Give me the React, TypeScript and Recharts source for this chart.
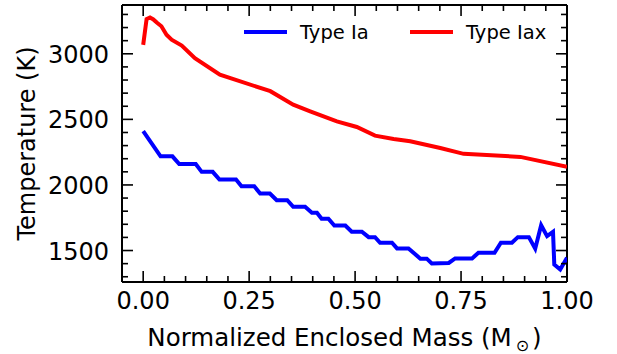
import { LineChart, Line, XAxis, YAxis, Legend, ReferenceLine } from "recharts";

// Enclosed mass (normalised) and temperature profiles
const iaMass = [
  0, 0.041, 0.069, 0.085, 0.124, 0.138, 0.164, 0.18, 0.219, 0.232, 0.262, 0.276, 0.299, 0.315,
  0.34, 0.354, 0.382, 0.398, 0.41, 0.421, 0.437, 0.451, 0.477, 0.492, 0.516, 0.532, 0.547, 0.559,
  0.587, 0.599, 0.626, 0.654, 0.669, 0.681, 0.721, 0.736, 0.776, 0.791, 0.829, 0.844, 0.87, 0.884,
  0.91, 0.925, 0.939, 0.953, 0.967, 0.97, 0.984, 1.0,
];
const iaTemp = [
  2410, 2218, 2218, 2160, 2160, 2100, 2100, 2041, 2041, 1990, 1990, 1935, 1935, 1884,
  1884, 1833, 1833, 1788, 1788, 1742, 1742, 1691, 1691, 1643, 1643, 1602, 1602, 1559,
  1559, 1516, 1516, 1438, 1438, 1402, 1405, 1440, 1440, 1483, 1483, 1559, 1559, 1602,
  1602, 1514, 1693, 1610, 1643, 1394, 1356, 1445,
];

const iaxMass = [
  0, 0.008, 0.016, 0.024, 0.032, 0.043, 0.055, 0.067, 0.091, 0.122, 0.181, 0.3, 0.354, 0.394,
  0.457, 0.504, 0.547, 0.591, 0.63, 0.701, 0.756, 0.89, 1.0,
];
const iaxTemp = [
  3068, 3265, 3276, 3262, 3238, 3210, 3145, 3107, 3063, 2967, 2840, 2715, 2612, 2561,
  2485, 2442, 2376, 2351, 2333, 2282, 2237, 2214, 2138,
];

const massTicks = [
  0, 0.05, 0.1, 0.15, 0.2, 0.25, 0.3, 0.35, 0.4, 0.45, 0.5, 0.55, 0.6, 0.65, 0.7, 0.75, 0.8,
  0.85, 0.9, 0.95, 1,
];
const massLabels = [0, 0.25, 0.5, 0.75, 1];
const tempTicks = [
  1300, 1400, 1500, 1600, 1700, 1800, 1900, 2000, 2100, 2200, 2300, 2400, 2500, 2600, 2700,
  2800, 2900, 3000, 3100, 3200, 3300,
];
const tempLabels = [1500, 2000, 2500, 3000];

const iaData = iaMass.map((m, i) => ({ mass: m, temp: iaTemp[i] }));
const iaxData = iaxMass.map((m, i) => ({ mass: m, temp: iaxTemp[i] }));

const FONT = "DejaVu Sans";
const W = 617;
const H = 354;
const MARGIN = { top: 5, right: 50, left: 0, bottom: 0 };
const X_AXIS_H = 72;
const Y_AXIS_W = 122;
// plot box size, used to mirror ticks onto the top and right edges
const PLOT_W = W - MARGIN.right - Y_AXIS_W;
const PLOT_H = H - MARGIN.top - X_AXIS_H;
const MAJOR = 11;
const MINOR = 6;
const TICK_W = 1.6;
const X_DOMAIN: [number, number] = [-0.05, 1.0];
const Y_DOMAIN: [number, number] = [1260, 3372];

// inward ticks on bottom + top edges
function MassTick({ x, y, payload }: any) {
  const major = massLabels.includes(payload.value);
  const len = major ? MAJOR : MINOR;
  const top = y - PLOT_H;
  return (
    <g>
      <line x1={x} x2={x} y1={y} y2={y - len} stroke="#000" strokeWidth={TICK_W} />
      <line x1={x} x2={x} y1={top} y2={top + len} stroke="#000" strokeWidth={TICK_W} />
      {major && (
        <text x={x} y={y + 27} textAnchor="middle" fontSize={24} fontFamily={FONT} fill="#000">
          {payload.value.toFixed(2)}
        </text>
      )}
    </g>
  );
}

// inward ticks on left + right edges
function TempTick({ x, y, payload }: any) {
  const major = tempLabels.includes(payload.value);
  const len = major ? MAJOR : MINOR;
  const right = x + PLOT_W;
  return (
    <g>
      <line x1={x} x2={x + len} y1={y} y2={y} stroke="#000" strokeWidth={TICK_W} />
      <line x1={right} x2={right - len} y1={y} y2={y} stroke="#000" strokeWidth={TICK_W} />
      {major && (
        <text x={x - 13} y={y + 9} textAnchor="end" fontSize={24} fontFamily={FONT} fill="#000">
          {payload.value}
        </text>
      )}
    </g>
  );
}

function MassTitle({ viewBox }: any) {
  const { x, y, width } = viewBox;
  return (
    <text x={x + width / 2} y={y + 64} textAnchor="middle" fontSize={24.5} fontFamily={FONT} fill="#000">
      Normalized Enclosed Mass (M
      <tspan fontSize={16} dx={4} dy={5}>⊙</tspan>
      <tspan dx={3} dy={-5}>)</tspan>
    </text>
  );
}

function TempTitle({ viewBox }: any) {
  const { x, y, height } = viewBox;
  const cx = x + 35;
  const cy = y + height / 2;
  return (
    <text
      x={cx}
      y={cy}
      transform={`rotate(-90, ${cx}, ${cy})`}
      textAnchor="middle"
      fontSize={24}
      fontFamily={FONT}
      fill="#000"
    >
      Temperature (K)
    </text>
  );
}

function LegendBox({ payload = [] }: any) {
  return (
    <svg width={W} height={60}>
      {payload.map((entry: any, i: number) => (
        <g key={entry.value} transform={`translate(${244 + i * 166}, 32)`}>
          <line x1={0} x2={43} y1={0} y2={0} stroke={entry.color} strokeWidth={4} />
          <text x={56} y={7} fontSize={19.5} fontFamily={FONT} fill="#000">
            {entry.value}
          </text>
        </g>
      ))}
    </svg>
  );
}

export default function App() {
  const axisLine = { stroke: "#000", strokeWidth: 2 };
  return (
    <div style={{ position: "absolute", left: 0, top: 0, width: W, height: H, background: "#fff" }}>
      <LineChart width={W} height={H} margin={MARGIN}>
        <XAxis
          dataKey="mass"
          type="number"
          domain={X_DOMAIN}
          allowDataOverflow
          ticks={massTicks}
          interval={0}
          height={X_AXIS_H}
          tickSize={0}
          tickMargin={0}
          tickLine={false}
          axisLine={axisLine}
          tick={MassTick}
          label={{ content: MassTitle }}
        />
        <YAxis
          type="number"
          domain={Y_DOMAIN}
          allowDataOverflow
          ticks={tempTicks}
          interval={0}
          width={Y_AXIS_W}
          tickSize={0}
          tickMargin={0}
          tickLine={false}
          axisLine={axisLine}
          tick={TempTick}
          label={{ content: TempTitle }}
        />
        {/* closing frame on the top and right */}
        <ReferenceLine y={Y_DOMAIN[1]} stroke="#000" strokeWidth={2} />
        <ReferenceLine x={X_DOMAIN[1]} stroke="#000" strokeWidth={2} />
        <Legend
          layout="horizontal"
          verticalAlign="middle"
          align="center"
          wrapperStyle={{ left: 0, top: 0, width: W, height: 60 }}
          content={LegendBox}
        />
        <Line
          data={iaData}
          dataKey="temp"
          name="Type Ia"
          type="linear"
          stroke="#0000ff"
          strokeWidth={4}
          dot={false}
          isAnimationActive={false}
        />
        <Line
          data={iaxData}
          dataKey="temp"
          name="Type Iax"
          type="linear"
          stroke="#ff0000"
          strokeWidth={4}
          dot={false}
          isAnimationActive={false}
        />
      </LineChart>
    </div>
  );
}
